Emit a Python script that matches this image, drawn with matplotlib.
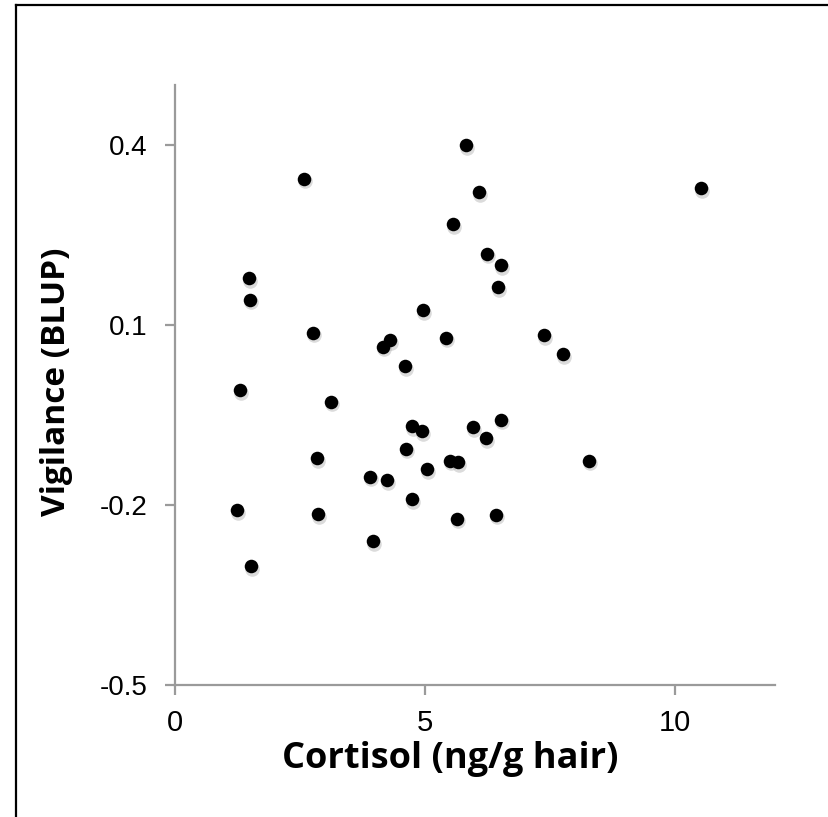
import matplotlib
matplotlib.use("Agg")
import matplotlib.pyplot as plt
import matplotlib.transforms as mtransforms
from matplotlib.lines import Line2D

# Data
cortisol = [1.24, 1.3, 1.48, 1.5, 1.52, 2.58, 2.76, 2.84, 2.86, 3.12,
            3.9, 3.96, 4.16, 4.3, 4.24, 4.6, 4.62, 4.74, 4.74, 4.94,
            4.96, 5.04, 5.42, 5.5, 5.56, 5.66, 5.64, 5.82, 5.96, 6.08,
            6.22, 6.24, 6.42, 6.46, 6.52, 6.52, 7.38, 7.76, 8.28, 10.52]
vigilance = [-0.209, -0.009, 0.178, 0.142, -0.302, 0.344, 0.087, -0.122, -0.215, -0.028,
             -0.153, -0.26, 0.064, 0.0745, -0.159, 0.031, -0.106, -0.069, -0.19, -0.077,
             0.125, -0.14, 0.079, -0.126, 0.268, -0.129, -0.223, 0.4, -0.07, 0.321,
             -0.089, 0.219, -0.216, 0.163, 0.2, -0.058, 0.083, 0.051, -0.126, 0.328]

x_ticks = [0, 5, 10]
y_ticks = [-0.5, -0.2, 0.1, 0.4]
y_tick_labels = ["-0.5", "-0.2", "0.1", "0.4"]

W, H = 829, 817
fig = plt.figure(figsize=(W / 100, H / 100), dpi=100)
ax = fig.add_axes([175 / W, 1 - 685 / H, 600 / W, 600 / H])

# soft drop shadow
shadow = ax.transData + mtransforms.ScaledTranslation(1.5 / 100, -2.5 / 100, fig.dpi_scale_trans)
ax.scatter(cortisol, vigilance, s=110, color="#999999", alpha=0.35, linewidths=0,
           transform=shadow, zorder=2)
ax.scatter(cortisol, vigilance, s=95, color="black", linewidths=0, zorder=3)

ax.set_xlim(0, 12)
ax.set_ylim(-0.5, 0.5)
ax.set_xticks(x_ticks)
ax.set_xticklabels([str(t) for t in x_ticks])
ax.set_yticks(y_ticks)
ax.set_yticklabels(y_tick_labels)

for side in ["top", "right"]:
    ax.spines[side].set_visible(False)
for side in ["left", "bottom"]:
    ax.spines[side].set_color("#9a9a9a")
    ax.spines[side].set_linewidth(1.6)

ax.tick_params(axis="both", direction="out", length=7, width=1.6, color="#9a9a9a",
               labelsize=20, labelcolor="black")
ax.tick_params(axis="y", pad=13)
ax.tick_params(axis="x", pad=10, labelsize=21)
for lbl in ax.get_xticklabels() + ax.get_yticklabels():
    lbl.set_fontfamily("Liberation Sans")

ax.set_xlabel("Cortisol (ng/g hair)", fontsize=26, fontweight="bold", family="Open Sans")
ax.xaxis.set_label_coords(0.458, -0.094)
ax.xaxis.label.set_va("top")
ax.set_ylabel("Vigilance (BLUP)", fontsize=24, fontweight="bold", family="Open Sans")
ax.yaxis.set_label_coords(-0.17, 0.505)

# outer frame lines (left and top)
fig.add_artist(Line2D([16.5 / W, 16.5 / W], [0, 1 - 4.5 / H], color="black", lw=1.6,
                      transform=fig.transFigure))
fig.add_artist(Line2D([16.5 / W, 1], [1 - 4.5 / H, 1 - 4.5 / H], color="black", lw=1.6,
                      transform=fig.transFigure))

fig.savefig("out.png", dpi=100, facecolor="white")
